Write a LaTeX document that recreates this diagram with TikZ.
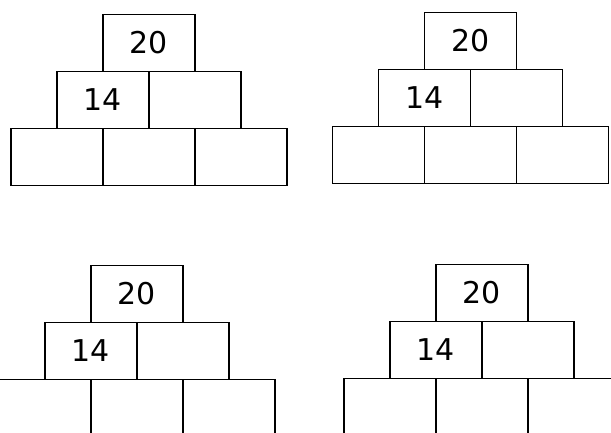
\documentclass[tikz,border=0pt]{standalone}
\usepackage{fontspec}
\setmainfont{DejaVu Sans}
\usepackage{tikz}
\usetikzlibrary{positioning}

\begin{document}
\begin{tikzpicture}[x=1pt, y=-1pt,
		brick/.style={draw, line width=1.4pt, rectangle, inner sep=0pt, outer sep=0pt,
			minimum width=92pt, minimum height=57pt,
			font=\fontsize{30}{30}\selectfont}]
		% 0. Page size, same as the scan (611 x 433), bottom rows run off it
		\useasboundingbox (0,0) rectangle (611,433);
		\clip (0,0) rectangle (611,433);

		% 1. Top left pyramid
		\node[brick] (atop) at (149,43) {20};
		\node[brick, anchor=north east] (aml) at (atop.south) {14};
		\node[brick, anchor=north west] (amr) at (atop.south) {};
		\node[brick, anchor=north] (abm) at (aml.south east) {};
		\node[brick, anchor=north east] (abl) at (abm.north west) {};
		\node[brick, anchor=north west] (abr) at (abm.north east) {};

		% 2. Top right pyramid
		\node[brick] (btop) at (470.5,41) {20};
		\node[brick, anchor=north east] (bml) at (btop.south) {14};
		\node[brick, anchor=north west] (bmr) at (btop.south) {};
		\node[brick, anchor=north] (bbm) at (bml.south east) {};
		\node[brick, anchor=north east] (bbl) at (bbm.north west) {};
		\node[brick, anchor=north west] (bbr) at (bbm.north east) {};

		% 3. Bottom left pyramid
		\node[brick] (ctop) at (137,294) {20};
		\node[brick, anchor=north east] (cml) at (ctop.south) {14};
		\node[brick, anchor=north west] (cmr) at (ctop.south) {};
		\node[brick, anchor=north] (cbm) at (cml.south east) {};
		\node[brick, anchor=north east] (cbl) at (cbm.north west) {};
		\node[brick, anchor=north west] (cbr) at (cbm.north east) {};

		% 4. Bottom right pyramid
		\node[brick] (dtop) at (482,293) {20};
		\node[brick, anchor=north east] (dml) at (dtop.south) {14};
		\node[brick, anchor=north west] (dmr) at (dtop.south) {};
		\node[brick, anchor=north] (dbm) at (dml.south east) {};
		\node[brick, anchor=north east] (dbl) at (dbm.north west) {};
		\node[brick, anchor=north west] (dbr) at (dbm.north east) {};
	\end{tikzpicture}
\end{document}
